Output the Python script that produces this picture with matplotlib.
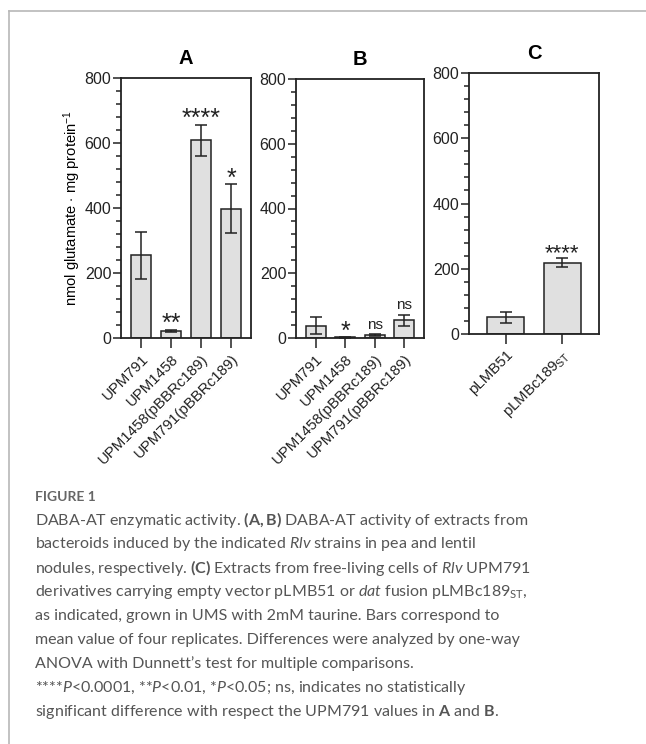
import matplotlib.pyplot as plt
import numpy as np
from matplotlib.lines import Line2D
from matplotlib.ticker import MultipleLocator

## data

strains_ab = ["UPM791", "UPM1458", "UPM1458(pBBRc189)", "UPM791(pBBRc189)"]
mean_a = [255, 22, 608, 398]
err_a = [72, 4, 48, 76]
sig_a = ["", "**", "****", "*"]

mean_b = [38, 2, 9, 55]
err_b = [27, 1, 2, 17]
sig_b = ["", "*", "ns", "ns"]

strains_c = ["pLMB51", r"pLMBc189$_{\mathregular{ST}}$"]
mean_c = [51, 219]
err_c = [17, 15]
sig_c = ["", "****"]

plt.rcParams['font.family'] = ['Liberation Sans', 'DejaVu Sans']
plt.rcParams['mathtext.fontset'] = 'custom'
plt.rcParams['mathtext.rm'] = 'Lato'
plt.rcParams['mathtext.it'] = 'Lato:italic'
plt.rcParams['mathtext.bf'] = 'Lato:bold'

W, H = 646, 744
fig = plt.figure(figsize=(W / 100, H / 100), dpi=100)

def box(x0, x1, y0, y1):
    return [x0 / W, 1 - y1 / H, (x1 - x0) / W, (y1 - y0) / H]

def panel(rect, names, means, errs, sigs, title, width=0.667, star_size=18, ylabel=None):
    ax = fig.add_axes(rect)
    x = np.arange(len(names))
    ax.bar(x, means, width=width, color='#e0e0e0', edgecolor='#222222', linewidth=1.1, zorder=2)
    ax.errorbar(x, means, yerr=errs, fmt='none', ecolor='#222222', elinewidth=1.1,
                capsize=4, capthick=1.1, zorder=3)
    for xi, m, e, s in zip(x, means, errs, sigs):
        if not s:
            continue
        if s == "ns":
            ax.text(xi, m + e + 8, s, ha='center', va='bottom', fontsize=11, color='#222222')
        else:
            ax.text(xi, m + e - 20, s, ha='center', va='bottom', fontsize=star_size,
                    color='#222222')
    ax.set_xlim(-width, len(names) - 1 + width)
    ax.set_ylim(0, 800)
    ax.yaxis.set_major_locator(MultipleLocator(200))
    ax.yaxis.set_minor_locator(MultipleLocator(40))
    ax.set_xticks(x)
    ax.set_xticklabels(names, rotation=45, ha='right', rotation_mode='anchor', fontsize=10.8)
    ax.tick_params(axis='y', which='major', length=6, width=1.1, labelsize=11.5, pad=1,
                   colors='#222222')
    ax.tick_params(axis='y', which='minor', length=3.5, width=1.1, colors='#222222')
    ax.tick_params(axis='x', length=7, width=1.1, pad=3, colors='#222222')
    for sp in ax.spines.values():
        sp.set_linewidth(1.3)
        sp.set_color('#222222')
    ax.set_title(title, fontsize=14.5, fontweight='bold', pad=10)
    if ylabel:
        ax.set_ylabel(ylabel, fontsize=10.6, labelpad=1)
    return ax

panel(box(121, 251, 78, 338), strains_ab, mean_a, err_a, sig_a, "A",
      ylabel=r"nmol glutamate $\cdot$ mg protein$^{\mathregular{-1}}$")
panel(box(296, 424, 79, 338), strains_ab, mean_b, err_b, sig_b, "B")
panel(box(469, 599, 73, 334), strains_c, mean_c, err_c, sig_c, "C", width=0.66, star_size=16)

## outer frame (top and left only)
fig.add_artist(Line2D([9 / W, 9 / W], [0, 1 - 11 / H], transform=fig.transFigure,
                      color='#b8b8b8', lw=1.2))
fig.add_artist(Line2D([9 / W, 1], [1 - 11 / H, 1 - 11 / H], transform=fig.transFigure,
                      color='#b8b8b8', lw=1.2))

## caption
cap = '#555555'
cf = ['Lato', 'DejaVu Sans']
x0 = 35 / W
fig.text(x0, 1 - 497 / H, "FIGURE 1", fontsize=10, color='#666666', family=cf,
         fontweight='bold', va='center')
lines = [
    r"DABA-AT enzymatic activity. $\mathbf{(A,B)}$ DABA-AT activity of extracts from",
    r"bacteroids induced by the indicated $\it{Rlv}$ strains in pea and lentil",
    r"nodules, respectively. $\mathbf{(C)}$ Extracts from free-living cells of $\it{Rlv}$ UPM791",
    r"derivatives carrying empty vector pLMB51 or $\it{dat}$ fusion pLMBc189$_{\mathregular{ST}}$,",
    r"as indicated, grown in UMS with 2mM taurine. Bars correspond to",
    r"mean value of four replicates. Differences were analyzed by one-way",
    r"ANOVA with Dunnett’s test for multiple comparisons.",
    r"****$\it{P}$<0.0001, **$\it{P}$<0.01, *$\it{P}$<0.05; ns, indicates no statistically",
    r"significant difference with respect the UPM791 values in $\mathbf{A}$ and $\mathbf{B}$.",
]
for i, t in enumerate(lines):
    fig.text(x0, 1 - (520 + 24 * i) / H, t, fontsize=11.5, color=cap, family=cf, va='center')

fig.savefig("out.png", dpi=100)
